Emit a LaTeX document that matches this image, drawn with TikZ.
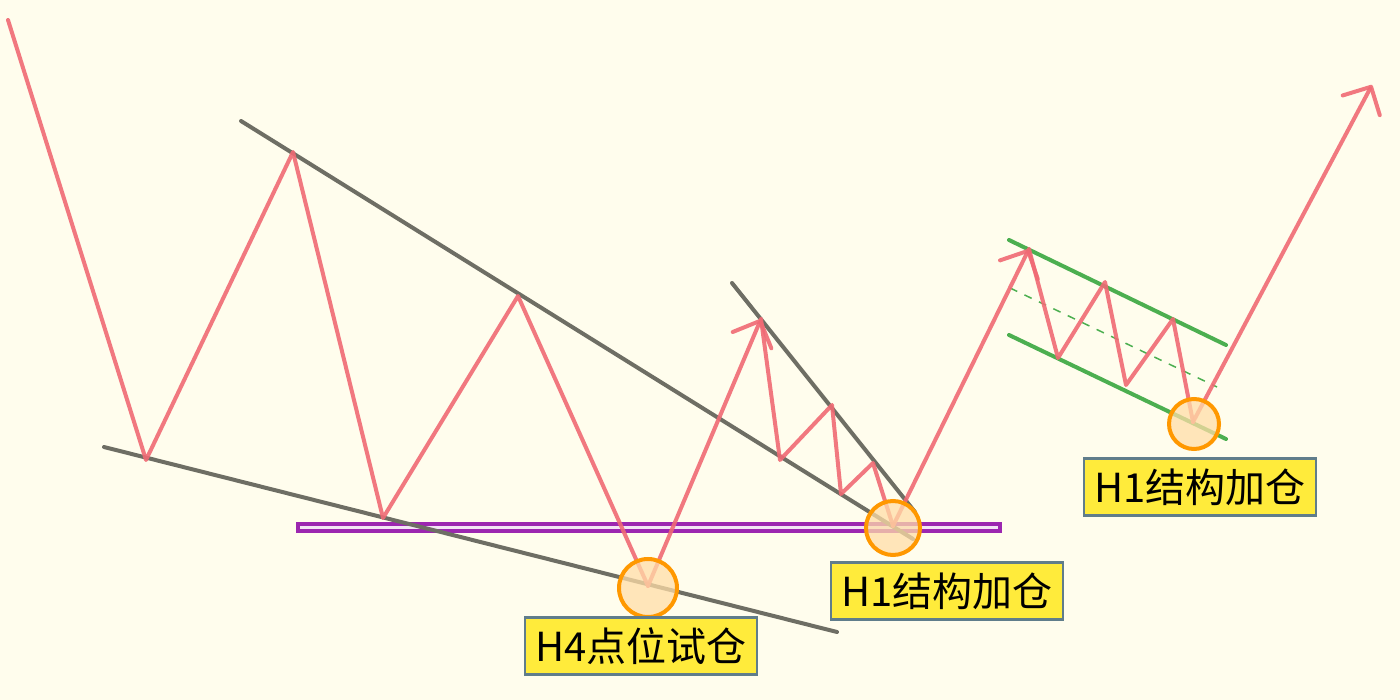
\documentclass[tikz,border=0pt]{standalone}
\usepackage{fontspec}
\setmainfont{Noto Sans CJK SC}
\usetikzlibrary{arrows.meta}
\definecolor{bg}{HTML}{FFFDED}
\definecolor{redline}{HTML}{F06A74}
\definecolor{grayline}{HTML}{6E6E64}
\definecolor{greenline}{HTML}{4CAF50}
\definecolor{orangec}{HTML}{FF9800}
\definecolor{orangefill}{HTML}{FFDDA8}
\definecolor{purplec}{HTML}{9C27B0}
\definecolor{purplefill}{HTML}{F3E5F5}
\definecolor{labelfill}{HTML}{FFEB3B}
\definecolor{labelborder}{HTML}{607D8B}
\tikzset{
  trend/.style={draw=grayline, line width=4pt, line cap=round},
  price/.style={draw=redline, opacity=0.9, line width=4pt, line cap=round, line join=round},
  pricearrow/.style={price, -{Straight Barb[length=21pt,width=42pt,line width=4pt,round]}},
  chanline/.style={draw=greenline, line width=4pt, line cap=round},
  chanmid/.style={draw=greenline, line width=1.5pt, dash pattern=on 8pt off 8pt},
  spot/.style={circle, minimum size=54pt, inner sep=0pt, draw=orangec, line width=4pt, fill=orangefill, fill opacity=0.75},
  tag/.style={draw=labelborder, line width=2.5pt, fill=labelfill, inner sep=0pt, minimum width=232pt, minimum height=57pt, font=\fontsize{40}{44}\selectfont, text=black},
  zone/.style={draw=purplec, line width=4pt, fill=purplefill}
}
\begin{document}
\begin{tikzpicture}[x=1pt,y=-1pt]
\fill[bg] (0,0) rectangle (1400,700);
\useasboundingbox (0,0) rectangle (1400,700);

% support zone
\path[zone] (298,524) rectangle (1000,531);

% trend lines
\coordinate (ta1) at (241,121); \coordinate (ta2) at (913,539);
\coordinate (tb1) at (104,447); \coordinate (tb2) at (837,632);
\coordinate (tc1) at (732,283); \coordinate (tc2) at (915,512);
\draw[trend] (ta1) -- (ta2);
\draw[trend] (tb1) -- (tb2);
\draw[trend] (tc1) -- (tc2);

% channel
\coordinate (ga1) at (1009,240); \coordinate (ga2) at (1226,345);
\coordinate (gb1) at (1009,335); \coordinate (gb2) at (1226,439);
\coordinate (gc1) at (1010,288); \coordinate (gc2) at (1217,387);
\draw[chanline] (ga1) -- (ga2);
\draw[chanline] (gb1) -- (gb2);
\draw[chanmid] (gc1) -- (gc2);

% price path
\coordinate (p0) at (8,20);
\coordinate (p1) at (146,460);
\coordinate (p2) at (293,152);
\coordinate (p3) at (383,518);
\coordinate (p4) at (518,296);
\coordinate (p5) at (648,586);
\coordinate (p6) at (761,319);
\coordinate (p7) at (780,460);
\coordinate (p8) at (832,405);
\coordinate (p9) at (841,494);
\coordinate (p10) at (873,463);
\coordinate (p11) at (893,526);
\coordinate (p12) at (1029,249);
\coordinate (p13) at (1058,358);
\coordinate (p14) at (1105,282);
\coordinate (p15) at (1126,385);
\coordinate (p16) at (1173,319);
\coordinate (p17) at (1193,422);
\coordinate (p18) at (1372,85);

\draw[price] (p0) -- (p1) -- (p2) -- (p3) -- (p4) -- (p5);
\draw[pricearrow] (p5) -- (p6);
\draw[price] (p6) -- (p7) -- (p8) -- (p9) -- (p10) -- (p11);
\draw[pricearrow] (p11) -- (p12);
\draw[price] (p12) -- (p13) -- (p14) -- (p15) -- (p16) -- (p17);
\draw[pricearrow] (p17) -- (p18);

% entry spots
\node[spot, minimum size=58pt] (s1) at (648,588) {};
\node[spot] (s2) at (893,528) {};
\node[spot, minimum size=50pt] (s3) at (1194,424) {};

% labels
\node[tag] (l1) at (641,646) {H4点位试仓};
\node[tag] (l2) at (947,591) {H1结构加仓};
\node[tag] (l3) at (1200,487) {H1结构加仓};
\end{tikzpicture}
\end{document}
